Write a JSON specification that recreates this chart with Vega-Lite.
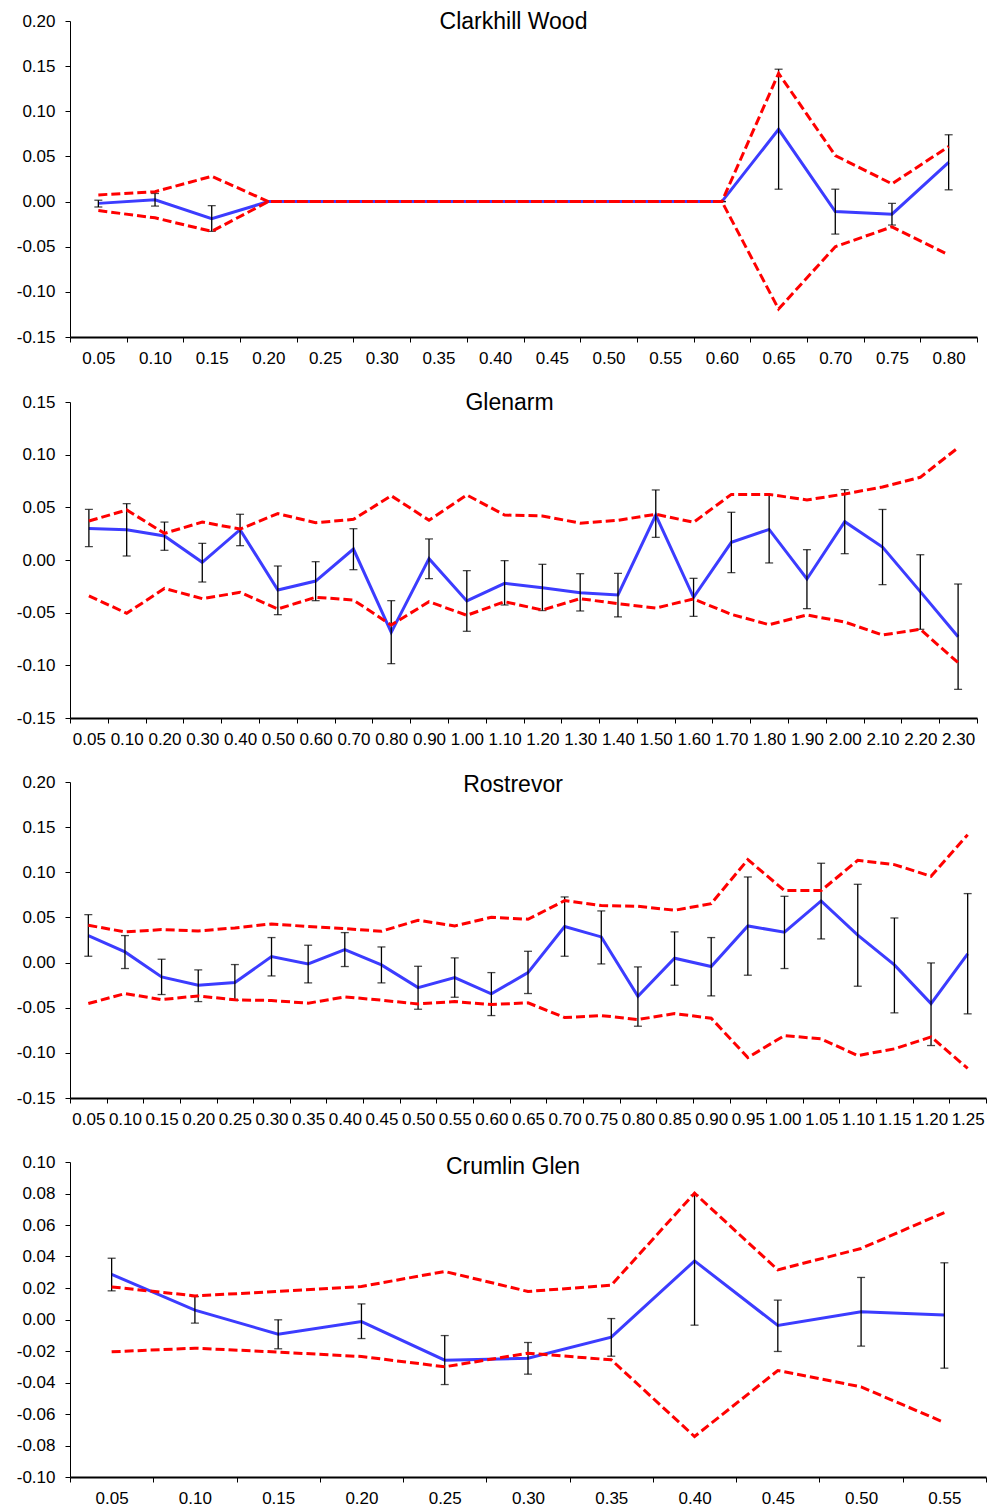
{
  "$schema": "https://vega.github.io/schema/vega-lite/v6.json",
  "padding": {"left": 10, "top": 11, "right": 0, "bottom": 0},
  "autosize": {"type": "pad"},
  "config": {
    "view": {"stroke": null},
    "font": "Liberation Sans",
    "axis": {"labelFont": "Liberation Sans", "labelFontSize": 17, "labelColor": "black", "domainColor": "black", "tickColor": "black", "grid": false, "tickSize": 5, "tickWidth": 1, "labelOverlap": false},
    "axisX": {"domainWidth": 2, "labelAngle": 0, "labelPadding": 8, "tickBand": "extent", "labelFlush": false},
    "axisY": {"domainWidth": 1, "labelPadding": 10, "minExtent": 60, "tickCount": 20},
    "title": {"font": "Liberation Sans", "fontSize": 23, "fontWeight": "normal", "color": "black", "anchor": "middle", "frame": "group", "baseline": "alphabetic"}
  },
  "datasets": {
    "clark": [
      {"x": "0.05", "m": -0.002, "lo": -0.006, "hi": 0.0015, "up": 0.0074, "dn": -0.010},
      {"x": "0.10", "m": 0.002, "lo": -0.005, "hi": 0.009, "up": 0.011, "dn": -0.018},
      {"x": "0.15", "m": -0.019, "lo": -0.033, "hi": -0.0045, "up": 0.028, "dn": -0.033},
      {"x": "0.20", "m": 0, "up": 0, "dn": 0},
      {"x": "0.25", "m": 0, "up": 0, "dn": 0},
      {"x": "0.30", "m": 0, "up": 0, "dn": 0},
      {"x": "0.35", "m": 0, "up": 0, "dn": 0},
      {"x": "0.40", "m": 0, "up": 0, "dn": 0},
      {"x": "0.45", "m": 0, "up": 0, "dn": 0},
      {"x": "0.50", "m": 0, "up": 0, "dn": 0},
      {"x": "0.55", "m": 0, "up": 0, "dn": 0},
      {"x": "0.60", "m": 0, "lo": 0, "hi": 0, "up": 0, "dn": 0},
      {"x": "0.65", "m": 0.080, "lo": 0.0137, "hi": 0.1466, "up": 0.142, "dn": -0.119},
      {"x": "0.70", "m": -0.011, "lo": -0.036, "hi": 0.0137, "up": 0.051, "dn": -0.050},
      {"x": "0.75", "m": -0.014, "lo": -0.026, "hi": -0.002, "up": 0.0196, "dn": -0.028},
      {"x": "0.80", "m": 0.0435, "lo": 0.013, "hi": 0.074, "up": 0.061, "dn": -0.059}
    ],
    "glen": [
      {"x": "0.05", "m": 0.030, "lo": 0.0127, "hi": 0.048, "up": 0.037, "dn": -0.034},
      {"x": "0.10", "m": 0.0288, "lo": 0.0038, "hi": 0.0535, "up": 0.0475, "dn": -0.0506},
      {"x": "0.20", "m": 0.0228, "lo": 0.0092, "hi": 0.036, "up": 0.0253, "dn": -0.027},
      {"x": "0.30", "m": -0.0022, "lo": -0.0209, "hi": 0.0158, "up": 0.036, "dn": -0.0367},
      {"x": "0.40", "m": 0.0288, "lo": 0.0136, "hi": 0.0434, "up": 0.0294, "dn": -0.0307},
      {"x": "0.50", "m": -0.0285, "lo": -0.0519, "hi": -0.0057, "up": 0.044, "dn": -0.0465},
      {"x": "0.60", "m": -0.020, "lo": -0.0386, "hi": -0.0016, "up": 0.0354, "dn": -0.0354},
      {"x": "0.70", "m": 0.0104, "lo": -0.0092, "hi": 0.0297, "up": 0.0386, "dn": -0.038},
      {"x": "0.80", "m": -0.0687, "lo": -0.0984, "hi": -0.0386, "up": 0.061, "dn": -0.0617},
      {"x": "0.90", "m": 0.0013, "lo": -0.0177, "hi": 0.020, "up": 0.0377, "dn": -0.0396},
      {"x": "1.00", "m": -0.0389, "lo": -0.0677, "hi": -0.0101, "up": 0.0617, "dn": -0.0525},
      {"x": "1.10", "m": -0.0222, "lo": -0.0427, "hi": -0.0006, "up": 0.0427, "dn": -0.0396},
      {"x": "1.20", "m": -0.0263, "lo": -0.048, "hi": -0.0041, "up": 0.0418, "dn": -0.0475},
      {"x": "1.30", "m": -0.031, "lo": -0.0484, "hi": -0.013, "up": 0.035, "dn": -0.0367},
      {"x": "1.40", "m": -0.0332, "lo": -0.054, "hi": -0.0127, "up": 0.0377, "dn": -0.0415},
      {"x": "1.50", "m": 0.0427, "lo": 0.0215, "hi": 0.0665, "up": 0.0434, "dn": -0.0456},
      {"x": "1.60", "m": -0.0354, "lo": -0.0535, "hi": -0.0174, "up": 0.0358, "dn": -0.037},
      {"x": "1.70", "m": 0.0168, "lo": -0.012, "hi": 0.0453, "up": 0.0623, "dn": -0.0516},
      {"x": "1.80", "m": 0.029, "lo": -0.0028, "hi": 0.0614, "up": 0.0623, "dn": -0.0614},
      {"x": "1.90", "m": -0.018, "lo": -0.0462, "hi": 0.0098, "up": 0.057, "dn": -0.0522},
      {"x": "2.00", "m": 0.0364, "lo": 0.006, "hi": 0.0668, "up": 0.0627, "dn": -0.0589},
      {"x": "2.10", "m": 0.0123, "lo": -0.0234, "hi": 0.048, "up": 0.0693, "dn": -0.0712},
      {"x": "2.20", "m": -0.030, "lo": -0.0658, "hi": 0.005, "up": 0.0785, "dn": -0.0658},
      {"x": "2.30", "m": -0.0728, "lo": -0.1228, "hi": -0.0228, "up": 0.1066, "dn": -0.0975}
    ],
    "ros": [
      {"x": "0.05", "m": 0.0299, "lo": 0.007, "hi": 0.0531, "up": 0.0413, "dn": -0.0454},
      {"x": "0.10", "m": 0.0118, "lo": -0.0066, "hi": 0.0299, "up": 0.034, "dn": -0.0343},
      {"x": "0.15", "m": -0.0159, "lo": -0.0354, "hi": 0.0037, "up": 0.0365, "dn": -0.041},
      {"x": "0.20", "m": -0.0251, "lo": -0.0432, "hi": -0.0081, "up": 0.035, "dn": -0.0369},
      {"x": "0.25", "m": -0.0221, "lo": -0.0417, "hi": -0.0022, "up": 0.0384, "dn": -0.0413},
      {"x": "0.30", "m": 0.0066, "lo": -0.0148, "hi": 0.0277, "up": 0.0428, "dn": -0.042},
      {"x": "0.35", "m": -0.0015, "lo": -0.0225, "hi": 0.0192, "up": 0.0399, "dn": -0.045},
      {"x": "0.40", "m": 0.0144, "lo": -0.0044, "hi": 0.0332, "up": 0.0376, "dn": -0.038},
      {"x": "0.45", "m": -0.0026, "lo": -0.0225, "hi": 0.0173, "up": 0.0347, "dn": -0.0417},
      {"x": "0.50", "m": -0.0277, "lo": -0.0517, "hi": -0.0041, "up": 0.0469, "dn": -0.0458},
      {"x": "0.55", "m": -0.0166, "lo": -0.0384, "hi": 0.0052, "up": 0.0406, "dn": -0.0432},
      {"x": "0.60", "m": -0.0347, "lo": -0.0587, "hi": -0.0111, "up": 0.0502, "dn": -0.0465},
      {"x": "0.65", "m": -0.0111, "lo": -0.0343, "hi": 0.0125, "up": 0.048, "dn": -0.0446},
      {"x": "0.70", "m": 0.0399, "lo": 0.007, "hi": 0.0727, "up": 0.0686, "dn": -0.0609},
      {"x": "0.75", "m": 0.0284, "lo": -0.0015, "hi": 0.0572, "up": 0.0631, "dn": -0.0587},
      {"x": "0.80", "m": -0.0373, "lo": -0.0705, "hi": -0.0048, "up": 0.0624, "dn": -0.0631},
      {"x": "0.85", "m": 0.0048, "lo": -0.0251, "hi": 0.034, "up": 0.0579, "dn": -0.0565},
      {"x": "0.90", "m": -0.0044, "lo": -0.0369, "hi": 0.0277, "up": 0.0653, "dn": -0.0616},
      {"x": "0.95", "m": 0.0406, "lo": -0.014, "hi": 0.0948, "up": 0.114, "dn": -0.1052},
      {"x": "1.00", "m": 0.0336, "lo": -0.0066, "hi": 0.0734, "up": 0.0797, "dn": -0.0808},
      {"x": "1.05", "m": 0.0683, "lo": 0.0262, "hi": 0.11, "up": 0.0797, "dn": -0.0845},
      {"x": "1.10", "m": 0.0303, "lo": -0.0262, "hi": 0.0867, "up": 0.1133, "dn": -0.103},
      {"x": "1.15", "m": -0.0026, "lo": -0.0557, "hi": 0.0494, "up": 0.1085, "dn": -0.0956},
      {"x": "1.20", "m": -0.0454, "lo": -0.0919, "hi": -0.0004, "up": 0.0956, "dn": -0.0823},
      {"x": "1.25", "m": 0.0096, "lo": -0.0568, "hi": 0.0764, "up": 0.1417, "dn": -0.1173}
    ],
    "crum": [
      {"x": "0.05", "m": 0.0286, "lo": 0.0182, "hi": 0.0389, "up": 0.0207, "dn": -0.0205},
      {"x": "0.10", "m": 0.0059, "lo": -0.0023, "hi": 0.0146, "up": 0.015, "dn": -0.0182},
      {"x": "0.15", "m": -0.0093, "lo": -0.0186, "hi": -0.0002, "up": 0.0178, "dn": -0.0207},
      {"x": "0.20", "m": -0.0013, "lo": -0.0121, "hi": 0.0099, "up": 0.021, "dn": -0.0235},
      {"x": "0.25", "m": -0.0258, "lo": -0.0413, "hi": -0.0102, "up": 0.0305, "dn": -0.030},
      {"x": "0.30", "m": -0.0246, "lo": -0.0347, "hi": -0.0146, "up": 0.0178, "dn": -0.0214},
      {"x": "0.35", "m": -0.0112, "lo": -0.0233, "hi": 0.0006, "up": 0.0218, "dn": -0.0256},
      {"x": "0.40", "m": 0.0372, "lo": -0.0036, "hi": 0.079, "up": 0.0802, "dn": -0.0743},
      {"x": "0.45", "m": -0.0038, "lo": -0.0203, "hi": 0.0123, "up": 0.0315, "dn": -0.0324},
      {"x": "0.50", "m": 0.0049, "lo": -0.0169, "hi": 0.0267, "up": 0.0451, "dn": -0.0428},
      {"x": "0.55", "m": 0.0028, "lo": -0.0309, "hi": 0.036, "up": 0.0679, "dn": -0.0654}
    ]
  },
  "concat": [
    {
      "width": 907, "height": 316,
      "title": {"text": "Clarkhill Wood", "offset": -22, "dx": -10},
      "data": {"name": "clark"},
      "encoding": {"x": {"field": "x", "type": "ordinal", "sort": null, "bandPosition": 0.5, "title": null, "scale": {"type": "band", "paddingInner": 0, "paddingOuter": 0}}},
      "layer": [
        {"mark": {"type": "line", "color": "#3c3cff", "strokeWidth": 3}, "encoding": {"y": {"field": "m", "type": "quantitative", "title": null, "scale": {"domain": [-0.15, 0.2], "nice": false, "zero": false}, "axis": {"values": [-0.15, -0.1, -0.05, 0, 0.05, 0.1, 0.15, 0.2], "tickCount": 20, "labelOverlap": false, "labelExpr": "replace(format(datum.value, '.2f'), '\u2212', '-')"}}}},
        {"mark": {"type": "rule", "color": "black", "strokeWidth": 1.3}, "encoding": {"y": {"field": "lo", "type": "quantitative", "title": null}, "y2": {"field": "hi"}}},
        {"mark": {"type": "tick", "color": "black", "size": 8, "thickness": 1.3}, "encoding": {"y": {"field": "lo", "type": "quantitative", "title": null}}},
        {"mark": {"type": "tick", "color": "black", "size": 8, "thickness": 1.3}, "encoding": {"y": {"field": "hi", "type": "quantitative", "title": null}}},
        {"mark": {"type": "line", "color": "#ff0000", "strokeWidth": 3, "strokeDash": [9, 4]}, "encoding": {"y": {"field": "up", "type": "quantitative", "title": null}}},
        {"mark": {"type": "line", "color": "#ff0000", "strokeWidth": 3, "strokeDash": [9, 4]}, "encoding": {"y": {"field": "dn", "type": "quantitative", "title": null}}}
      ]
    },
    {
      "width": 907, "height": 316,
      "title": {"text": "Glenarm", "offset": -22, "dx": -14},
      "data": {"name": "glen"},
      "encoding": {"x": {"field": "x", "type": "ordinal", "sort": null, "bandPosition": 0.5, "title": null, "scale": {"type": "band", "paddingInner": 0, "paddingOuter": 0}}},
      "layer": [
        {"mark": {"type": "line", "color": "#3c3cff", "strokeWidth": 3}, "encoding": {"y": {"field": "m", "type": "quantitative", "title": null, "scale": {"domain": [-0.15, 0.15], "nice": false, "zero": false}, "axis": {"values": [-0.15, -0.1, -0.05, 0, 0.05, 0.1, 0.15], "tickCount": 20, "labelOverlap": false, "labelExpr": "replace(format(datum.value, '.2f'), '\u2212', '-')"}}}},
        {"mark": {"type": "rule", "color": "black", "strokeWidth": 1.3}, "encoding": {"y": {"field": "lo", "type": "quantitative", "title": null}, "y2": {"field": "hi"}}},
        {"mark": {"type": "tick", "color": "black", "size": 8, "thickness": 1.3}, "encoding": {"y": {"field": "lo", "type": "quantitative", "title": null}}},
        {"mark": {"type": "tick", "color": "black", "size": 8, "thickness": 1.3}, "encoding": {"y": {"field": "hi", "type": "quantitative", "title": null}}},
        {"mark": {"type": "line", "color": "#ff0000", "strokeWidth": 3, "strokeDash": [9, 4]}, "encoding": {"y": {"field": "up", "type": "quantitative", "title": null}}},
        {"mark": {"type": "line", "color": "#ff0000", "strokeWidth": 3, "strokeDash": [9, 4]}, "encoding": {"y": {"field": "dn", "type": "quantitative", "title": null}}}
      ]
    },
    {
      "width": 916, "height": 316,
      "title": {"text": "Rostrevor", "offset": -24, "dx": -15},
      "data": {"name": "ros"},
      "encoding": {"x": {"field": "x", "type": "ordinal", "sort": null, "bandPosition": 0.5, "title": null, "scale": {"type": "band", "paddingInner": 0, "paddingOuter": 0}}},
      "layer": [
        {"mark": {"type": "line", "color": "#3c3cff", "strokeWidth": 3}, "encoding": {"y": {"field": "m", "type": "quantitative", "title": null, "scale": {"domain": [-0.15, 0.2], "nice": false, "zero": false}, "axis": {"values": [-0.15, -0.1, -0.05, 0, 0.05, 0.1, 0.15, 0.2], "tickCount": 20, "labelOverlap": false, "labelExpr": "replace(format(datum.value, '.2f'), '\u2212', '-')"}}}},
        {"mark": {"type": "rule", "color": "black", "strokeWidth": 1.3}, "encoding": {"y": {"field": "lo", "type": "quantitative", "title": null}, "y2": {"field": "hi"}}},
        {"mark": {"type": "tick", "color": "black", "size": 8, "thickness": 1.3}, "encoding": {"y": {"field": "lo", "type": "quantitative", "title": null}}},
        {"mark": {"type": "tick", "color": "black", "size": 8, "thickness": 1.3}, "encoding": {"y": {"field": "hi", "type": "quantitative", "title": null}}},
        {"mark": {"type": "line", "color": "#ff0000", "strokeWidth": 3, "strokeDash": [9, 4]}, "encoding": {"y": {"field": "up", "type": "quantitative", "title": null}}},
        {"mark": {"type": "line", "color": "#ff0000", "strokeWidth": 3, "strokeDash": [9, 4]}, "encoding": {"y": {"field": "dn", "type": "quantitative", "title": null}}}
      ]
    },
    {
      "width": 916, "height": 315,
      "title": {"text": "Crumlin Glen", "offset": -26, "dx": -15},
      "data": {"name": "crum"},
      "encoding": {"x": {"field": "x", "type": "ordinal", "sort": null, "bandPosition": 0.5, "title": null, "scale": {"type": "band", "paddingInner": 0, "paddingOuter": 0}}},
      "layer": [
        {"mark": {"type": "line", "color": "#3c3cff", "strokeWidth": 3}, "encoding": {"y": {"field": "m", "type": "quantitative", "title": null, "scale": {"domain": [-0.1, 0.1], "nice": false, "zero": false}, "axis": {"values": [-0.1, -0.08, -0.06, -0.04, -0.02, 0, 0.02, 0.04, 0.06, 0.08, 0.1], "tickCount": 20, "labelOverlap": false, "labelExpr": "replace(format(datum.value, '.2f'), '\u2212', '-')"}}}},
        {"mark": {"type": "rule", "color": "black", "strokeWidth": 1.3}, "encoding": {"y": {"field": "lo", "type": "quantitative", "title": null}, "y2": {"field": "hi"}}},
        {"mark": {"type": "tick", "color": "black", "size": 8, "thickness": 1.3}, "encoding": {"y": {"field": "lo", "type": "quantitative", "title": null}}},
        {"mark": {"type": "tick", "color": "black", "size": 8, "thickness": 1.3}, "encoding": {"y": {"field": "hi", "type": "quantitative", "title": null}}},
        {"mark": {"type": "line", "color": "#ff0000", "strokeWidth": 3, "strokeDash": [9, 4]}, "encoding": {"y": {"field": "up", "type": "quantitative", "title": null}}},
        {"mark": {"type": "line", "color": "#ff0000", "strokeWidth": 3, "strokeDash": [9, 4]}, "encoding": {"y": {"field": "dn", "type": "quantitative", "title": null}}}
      ]
    }
  ],
  "columns": 1,
  "spacing": 26
}
